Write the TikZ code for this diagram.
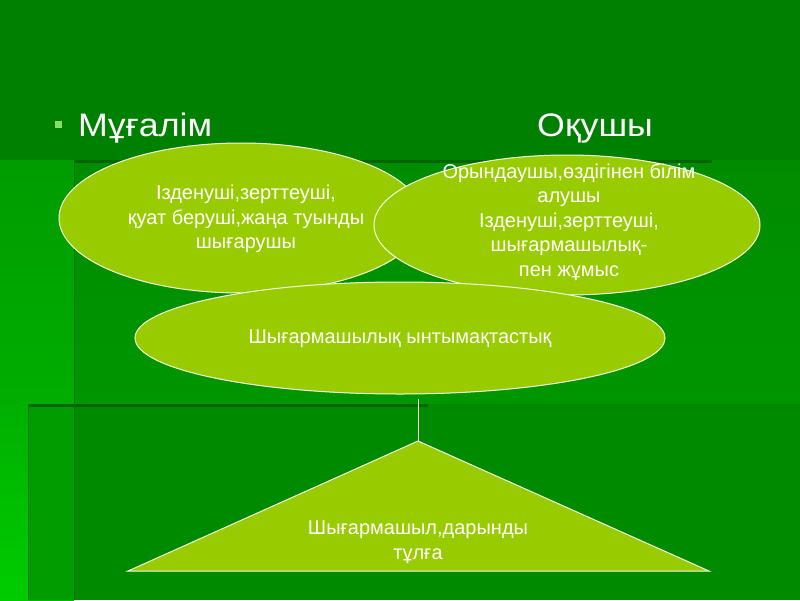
\documentclass[tikz,border=0pt]{standalone}
\usepackage{fontspec}
\setmainfont{Liberation Sans}
\newfontfamily\titlefont[FakeStretch=1.1]{Liberation Sans}
\usetikzlibrary{shapes.geometric}
\definecolor{bgtop}{HTML}{008000}
\definecolor{panel}{HTML}{008C00}
\definecolor{panelb}{HTML}{008A00}
\definecolor{leftcol}{HTML}{009C00}
\definecolor{leftbot}{HTML}{00BC00}
\definecolor{stripa}{HTML}{00B000}
\definecolor{stripb}{HTML}{00CC00}
\definecolor{panelbot}{HTML}{009600}
\definecolor{darkedge}{HTML}{006400}
\definecolor{edgeline}{HTML}{007400}
\definecolor{shapefill}{HTML}{99CC00}
\definecolor{bulletc}{HTML}{88E060}
\tikzset{
  blob/.style={ellipse, draw=white!90!shapefill, line width=1pt, fill=shapefill, inner sep=0pt},
  blobtext/.style={text=white, align=center, font=\fontsize{20}{24.5}\selectfont},
  titletext/.style={text=white, font=\titlefont\fontsize{32.5}{36}\selectfont, inner sep=0pt},
  connector/.style={draw=white!90!shapefill, line width=1pt}
}
\begin{document}
\begin{tikzpicture}[x=1pt,y=-1pt]
\useasboundingbox (0,0) rectangle (800,600);
% background
\fill[bgtop] (0,0) rectangle (800,600);
\shade[top color=leftcol, bottom color=leftbot] (0,160) rectangle (74,600);
\shade[top color=stripa, bottom color=stripb] (0,404) rectangle (28,600);
\fill[leftcol] (28,404) rectangle (74,600);
\shade[top color=panel, bottom color=panelbot] (74,160) rectangle (800,404);
\fill[panelb] (74,404) rectangle (800,600);
\draw[darkedge, line width=3pt] (74,161) -- (712,161);
\draw[darkedge, line width=3pt] (28,405) -- (428,405);
\draw[edgeline, line width=1pt] (74,160) -- (74,600);
\draw[edgeline, line width=1pt] (28,404) -- (28,600);
% title
\fill[bulletc] (55,121) rectangle (62,128);
\node[titletext, anchor=base west] (t1) at (78,136) {Мұғалім};
\node[titletext, anchor=base west] (t2) at (537,136) {Оқушы};
% ellipses
\node[blob, minimum width=364pt, minimum height=150pt] (e1) at (241,218) {};
\node[blobtext] (e1t) at (246,219) {Ізденуші,зерттеуші,\\қуат беруші,жаңа туынды\\шығарушы};
\node[blob, minimum width=386pt, minimum height=140pt] (e2) at (567,225) {};
\node[blobtext] (e2t) at (569,222) {Орындаушы,өздігінен білім\\алушы\\Ізденуші,зерттеуші,\\шығармашылық-\\пен жұмыс};
\node[blob, minimum width=530pt, minimum height=112pt] (e3) at (400,338) {};
\node[blobtext] (e3t) at (400,339) {Шығармашылық ынтымақтастық};
% triangle
\coordinate (apex) at (418,441);
\coordinate (bl) at (128,571);
\coordinate (br) at (709,571);
\filldraw[fill=shapefill, draw=white!90!shapefill, line width=1pt] (apex) -- (br) -- (bl) -- cycle;
\node[blobtext] (tt) at (418,542) {Шығармашыл,дарынды\\тұлға};
% connector
\coordinate (c1) at (418,399);
\draw[connector] (c1) -- (apex);
\end{tikzpicture}
\end{document}
